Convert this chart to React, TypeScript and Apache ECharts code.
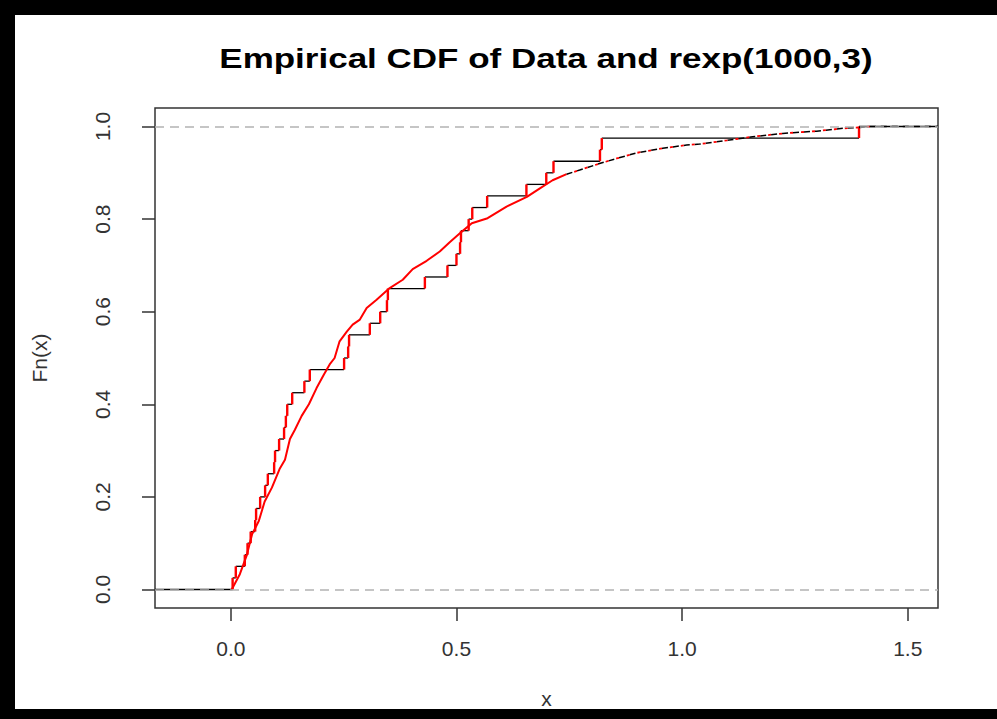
import { useEffect, useRef } from "react";
import * as echarts from "echarts";

// Plot limits (R-style 4% padding around the data range)
const X_MIN = -0.168;
const X_MAX = 1.567;
const Y_MIN = -0.04;
const Y_MAX = 1.04;

const xTicks = [0, 0.5, 1.0, 1.5];
const yTicks = [0, 0.2, 0.4, 0.6, 0.8, 1.0];

// Sorted observations of the 40-point sample ("Data")
const sampleValues = [
  0.004, 0.011, 0.031, 0.037, 0.044, 0.054, 0.056, 0.065, 0.076, 0.082,
  0.096, 0.098, 0.107, 0.118, 0.122, 0.125, 0.136, 0.163, 0.175, 0.251,
  0.26, 0.262, 0.308, 0.331, 0.346, 0.348, 0.43, 0.48, 0.5, 0.508,
  0.51, 0.527, 0.535, 0.568, 0.655, 0.699, 0.715, 0.818, 0.822, 1.392,
];

// Empirical CDF of rexp(1000,3): x positions and Fn(x) values
const rexpX = [
  0.002, 0.02, 0.035, 0.047, 0.062, 0.075, 0.091, 0.108, 0.12, 0.131,
  0.142, 0.157, 0.173, 0.19, 0.206, 0.219, 0.23, 0.241, 0.257, 0.27,
  0.286, 0.301, 0.323, 0.352, 0.381, 0.403, 0.434, 0.463, 0.485, 0.512,
  0.534, 0.569, 0.611, 0.656, 0.684, 0.713, 0.744, 0.773, 0.817, 0.855,
  0.899, 0.957, 1.01, 1.039, 1.099, 1.156, 1.223, 1.298, 1.356, 1.393,
  1.416,
];
const rexpF = [
  0.0, 0.033, 0.073, 0.119, 0.148, 0.19, 0.22, 0.26, 0.28, 0.325,
  0.345, 0.375, 0.4, 0.435, 0.464, 0.486, 0.5, 0.536, 0.557, 0.572,
  0.583, 0.608, 0.626, 0.651, 0.669, 0.692, 0.71, 0.73, 0.75, 0.773,
  0.791, 0.802, 0.827, 0.848, 0.866, 0.884, 0.897, 0.906, 0.92, 0.931,
  0.943, 0.953, 0.96, 0.962, 0.97, 0.978, 0.985, 0.99, 0.996, 0.998,
  1.0,
];

// Where the sparse upper tail of the rexp ECDF starts
const TAIL_FROM = 0.744;

const FONT = "'Liberation Sans', Arial, sans-serif";
const INK = "#333333";

export default function App() {
  const ref = useRef<HTMLDivElement>(null);

  useEffect(() => {
    const chart = echarts.init(ref.current!, null, { renderer: "svg" });
    const n = sampleValues.length;

    // Step function pieces: horizontals [x0, x1, y], verticals [x, yLow, yHigh]
    const horizontals: number[][] = [[X_MIN, sampleValues[0], 0]];
    sampleValues.forEach((v, i) => {
      horizontals.push([v, i + 1 < n ? sampleValues[i + 1] : X_MAX, (i + 1) / n]);
    });
    const verticals = sampleValues.map((v, i) => [v, i / n, (i + 1) / n]);

    const rexpPts = rexpX.map((x, i) => [x, rexpF[i]]);
    const body = rexpPts.filter((p) => p[0] <= TAIL_FROM);
    const tail = rexpPts.filter((p) => p[0] >= TAIL_FROM);
    tail.push([X_MAX, 1]);

    chart.setOption({
      animation: false,
      backgroundColor: "#ffffff",
      grid: {
        left: 155,
        top: 108,
        width: 783,
        height: 500,
        show: true,
        borderColor: INK,
        borderWidth: 1.5,
        backgroundColor: "transparent",
      },
      xAxis: {
        type: "value",
        min: X_MIN,
        max: X_MAX,
        splitLine: { show: false },
        axisLine: { show: false, onZero: false },
        axisTick: {
          show: true,
          length: 13,
          customValues: xTicks,
          lineStyle: { color: INK, width: 1.5 },
        },
        axisLabel: {
          customValues: xTicks,
          formatter: (v: number) => v.toFixed(1),
          fontSize: 21,
          fontFamily: FONT,
          color: INK,
          margin: 30,
        },
        name: "x",
        nameLocation: "middle",
        nameGap: 80,
        nameTextStyle: { fontSize: 21, fontFamily: FONT, color: INK },
      },
      yAxis: {
        type: "value",
        min: Y_MIN,
        max: Y_MAX,
        splitLine: { show: false },
        axisLine: { show: false, onZero: false },
        axisTick: {
          show: true,
          length: 13,
          customValues: yTicks,
          lineStyle: { color: INK, width: 1.5 },
        },
        axisLabel: {
          customValues: yTicks,
          formatter: (v: number) => v.toFixed(1),
          fontSize: 21,
          fontFamily: FONT,
          color: INK,
          rotate: 90,
          margin: 42,
        },
        name: "Fn(x)",
        nameLocation: "middle",
        nameRotate: 90,
        nameGap: 105,
        nameTextStyle: { fontSize: 21, fontFamily: FONT, color: INK },
      },
      graphic: [
        { type: "rect", shape: { x: 0, y: 0, width: 997, height: 15 }, style: { fill: "#000" } },
        { type: "rect", shape: { x: 0, y: 0, width: 15, height: 719 }, style: { fill: "#000" } },
        { type: "rect", shape: { x: 0, y: 709, width: 997, height: 10 }, style: { fill: "#000" } },
        {
          type: "text",
          x: 546,
          y: 58,
          scaleX: 1.25,
          style: {
            text: "Empirical CDF of Data and rexp(1000,3)",
            font: `bold 28px ${FONT}`,
            fill: "#000",
            align: "center",
            verticalAlign: "middle",
          },
        },
      ],
      series: [
        {
          type: "custom",
          name: "Data horizontals",
          data: horizontals,
          encode: { x: [0, 1], y: 2 },
          renderItem: (_p: any, api: any) => {
            const a = api.coord([api.value(0), api.value(2)]);
            const b = api.coord([api.value(1), api.value(2)]);
            return {
              type: "line",
              shape: { x1: a[0], y1: a[1], x2: b[0], y2: b[1] },
              style: { stroke: "#000", lineWidth: 1.3 },
            };
          },
        },
        {
          type: "line",
          name: "rexp body",
          data: body,
          showSymbol: false,
          lineStyle: { color: "#ff0000", width: 2 },
        },
        {
          type: "line",
          name: "rexp tail",
          data: tail,
          showSymbol: false,
          lineStyle: { color: "#000000", width: 1.5, type: [6, 5] },
        },
        {
          type: "line",
          name: "rexp tail jumps",
          data: tail.slice(0, -1),
          showSymbol: false,
          lineStyle: { color: "#ff0000", width: 1.8, type: [3, 8], dashOffset: 3 },
        },
        {
          type: "custom",
          name: "Data verticals",
          data: verticals,
          encode: { x: 0, y: [1, 2] },
          renderItem: (_p: any, api: any) => {
            const a = api.coord([api.value(0), api.value(1)]);
            const b = api.coord([api.value(0), api.value(2)]);
            return {
              type: "line",
              shape: { x1: a[0], y1: a[1], x2: b[0], y2: b[1] },
              style: { stroke: "#ff0000", lineWidth: 2.4 },
            };
          },
        },
        {
          type: "line",
          name: "reference lines",
          data: [],
          markLine: {
            silent: true,
            symbol: "none",
            label: { show: false },
            lineStyle: { color: "#b3b3b3", type: [9, 6], width: 1.5 },
            data: [{ yAxis: 0 }, { yAxis: 1 }],
          },
        },
      ],
    });

    return () => chart.dispose();
  }, []);

  return (
    <div
      ref={ref}
      style={{ position: "fixed", left: 0, top: 0, width: 997, height: 719, background: "#fff" }}
    />
  );
}
